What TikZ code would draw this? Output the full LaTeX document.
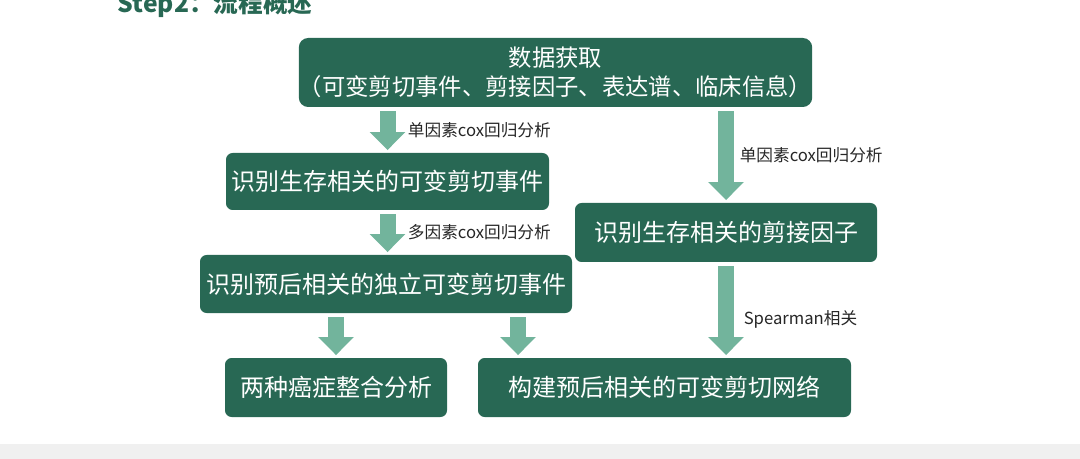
\documentclass[tikz,border=0pt]{standalone}
\usepackage{fontspec}
\setmainfont{Noto Sans CJK SC}
\usepackage{tikz}
\usetikzlibrary{calc,arrows.meta}
\definecolor{mygreen}{RGB}{40,104,84}
\definecolor{mymint}{RGB}{114,180,156}
\definecolor{mygray}{RGB}{240,240,240}

\begin{document}
\begin{tikzpicture}[x=0.75pt,y=-0.75pt]
	\tikzstyle{box}=[rectangle,rounded corners=5pt,fill=mygreen,text=white,inner sep=0pt,font=\fontsize{18}{22}\selectfont];
	\tikzstyle{flow}=[mymint,line width=12pt,-{Triangle[width=26pt,length=13.5pt]},shorten <=3pt,shorten >=2pt];
	\tikzstyle{lbl}=[font=\fontsize{12.5}{14}\selectfont,text=black!85];
	\useasboundingbox (0,0) rectangle (1080,459);
	\fill[mygray] (0,444) rectangle (1080,459);
	\node[anchor=base west,text=mygreen,font=\bfseries\fontsize{18.5}{22}\selectfont] (title) at (113,12.5) {Step2：流程概述};
	\node[box,rounded corners=7pt,minimum width=384.75pt,minimum height=51.75pt,align=center,font=\fontsize{17.5}{21.75}\selectfont] (top) at (555.5,72.5) {数据获取\\（可变剪切事件、剪接因子、表达谱、临床信息）};
	\node[box,minimum width=242.25pt,minimum height=42.75pt] (ev)  at (387.5,181.5) {识别生存相关的可变剪切事件};
	\node[box,minimum width=226.5pt, minimum height=44.25pt] (sf)  at (726,232.5)   {识别生存相关的剪接因子};
	\node[box,minimum width=279pt,   minimum height=43.5pt]  (ind) at (386,284)     {识别预后相关的独立可变剪切事件};
	\node[box,minimum width=166.5pt, minimum height=44.25pt] (two) at (336,387.5)   {两种癌症整合分析};
	\node[box,minimum width=279.75pt,minimum height=44.25pt] (net) at (664.5,387.5) {构建预后相关的可变剪切网络};
	\coordinate (j) at (518,0);
	\draw[flow] (top.south -| ev.north) -- node[lbl,right=6pt]{单因素cox回归分析} (ev.north);
	\draw[flow] (top.south -| sf.north) -- node[lbl,right=1pt]{单因素cox回归分析} (sf.north);
	\draw[flow] (ev.south) -- node[lbl,right=6pt]{多因素cox回归分析} (ev.south |- ind.north);
	\draw[flow] (ind.south -| two.north) -- (two.north);
	\draw[flow] (ind.south -| j) -- (net.north -| j);
	\draw[flow] (sf.south) -- node[lbl,pos=0.6,right=4pt]{Spearman相关} (sf.south |- net.north);
\end{tikzpicture}
\end{document}
